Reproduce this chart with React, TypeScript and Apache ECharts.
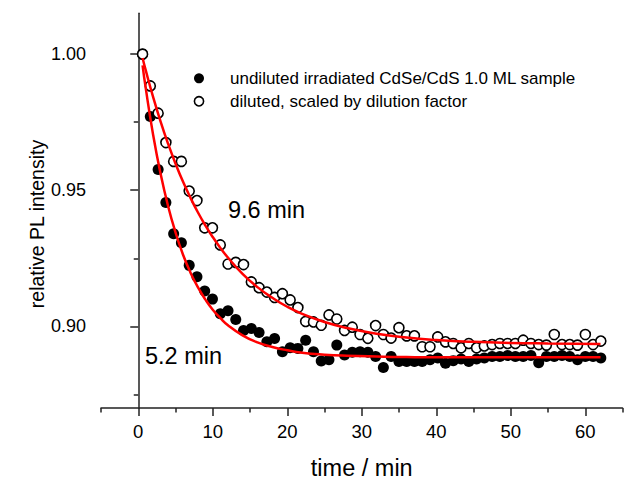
import React, { useEffect, useRef } from "react";
import * as echarts from "echarts";

const times = [
  0.58, 1.62, 2.67, 3.71, 4.75, 5.79, 6.84, 7.88, 8.92, 9.96,
  11.01, 12.05, 13.09, 14.13, 15.18, 16.22, 17.26, 18.3, 19.35, 20.39,
  21.43, 22.47, 23.52, 24.56, 25.6, 26.65, 27.69, 28.73, 29.77, 30.82,
  31.86, 32.9, 33.94, 34.99, 36.03, 37.07, 38.11, 39.16, 40.2, 41.24,
  42.28, 43.33, 44.37, 45.41, 46.45, 47.5, 48.54, 49.58, 50.62, 51.67,
  52.71, 53.75, 54.79, 55.84, 56.88, 57.92, 58.96, 60.01, 61.05, 62.09,
];

const undilutedPL = [
  1.0, 0.9771, 0.9576, 0.9455, 0.934, 0.9307, 0.9224, 0.9182, 0.913, 0.91,
  0.9046, 0.9057, 0.9025, 0.8985, 0.8992, 0.8977, 0.8943, 0.8955, 0.8907, 0.8921,
  0.8919, 0.8949, 0.8907, 0.8873, 0.8877, 0.8931, 0.8895, 0.8905, 0.8907, 0.8905,
  0.8889, 0.8849, 0.8889, 0.8871, 0.8871, 0.8871, 0.8871, 0.8877, 0.8884, 0.8864,
  0.8874, 0.888, 0.8871, 0.888, 0.8884, 0.8889, 0.8889, 0.8893, 0.8889, 0.8889,
  0.8893, 0.8866, 0.8889, 0.8889, 0.8893, 0.8889, 0.8877, 0.8889, 0.8889, 0.8884,
];

const dilutedPL = [
  1.0, 0.9883, 0.9783, 0.9675, 0.9606, 0.9606, 0.9497, 0.9462, 0.9362, 0.9362,
  0.9299, 0.9229, 0.9235, 0.9227, 0.9163, 0.9142, 0.9126, 0.9106, 0.912, 0.9097,
  0.9069, 0.9018, 0.9016, 0.9004, 0.9042, 0.9027, 0.8985, 0.8997, 0.897, 0.8956,
  0.9003, 0.897, 0.8957, 0.8995, 0.8965, 0.8965, 0.8925, 0.8925, 0.8961, 0.8943,
  0.8937, 0.8921, 0.8937, 0.8921, 0.8928, 0.8933, 0.8937, 0.8937, 0.8937, 0.8949,
  0.8937, 0.8933, 0.8931, 0.897, 0.8933, 0.8933, 0.8931, 0.897, 0.8933, 0.8946,
];

const fitTimes = [
  0.58, 1, 2, 3, 4, 5, 6, 7, 8, 9, 10, 11, 12, 14, 16, 18, 20, 22, 25, 28,
  32, 36, 40, 45, 50, 55, 62.05,
];
const undilutedFit = [
  0.9959, 0.9876, 0.9703, 0.956, 0.9442, 0.9345, 0.9264, 0.9198, 0.9144, 0.9099,
  0.9061, 0.9031, 0.9005, 0.8967, 0.8941, 0.8924, 0.8912, 0.8903, 0.8896, 0.8892,
  0.8889, 0.8887, 0.8886, 0.8886, 0.8886, 0.8886, 0.8886,
];
const dilutedFit = [
  0.9986, 0.9941, 0.9842, 0.9752, 0.9671, 0.9598, 0.9532, 0.9473, 0.9419, 0.9371,
  0.9328, 0.9289, 0.9254, 0.9193, 0.9144, 0.9105, 0.9072, 0.9046, 0.9016, 0.8994,
  0.8973, 0.8959, 0.895, 0.8943, 0.8939, 0.8937, 0.8935,
];

const xMajor = [0, 10, 20, 30, 40, 50, 60];
const xMinor = [-5, 5, 15, 25, 35, 45, 55, 65];
const yMajor = [0.9, 0.95, 1.0];
const yMinor = [0.875, 0.925, 0.975];

const legendLabels = [
  "undiluted irradiated CdSe/CdS 1.0 ML sample",
  "diluted, scaled by dilution factor",
];
const annotations = ["9.6 min", "5.2 min"];
const yTitle = "relative PL intensity";
const xTitle = "time / min";

const FONT = "'Liberation Sans', Arial, sans-serif";

export default function App() {
  const ref = useRef<HTMLDivElement>(null);

  useEffect(() => {
    if (!ref.current) return;
    const chart = echarts.init(ref.current, null, { renderer: "svg" });

    const gridLeft = 101;
    const gridTop = 13.3;
    const gridWidth = 521.5;
    const gridHeight = 400.4;

    const axisLineStyle = { color: "#222", width: 1.5 };

    const option = {
      animation: false,
      backgroundColor: "#fff",
      textStyle: { fontFamily: FONT },
      grid: { left: gridLeft, top: gridTop, width: gridWidth, height: gridHeight, containLabel: false },
      xAxis: [
        {
          type: "value",
          min: -5,
          max: 65,
          position: "bottom",
          name: xTitle,
          nameLocation: "middle",
          nameGap: 48,
          nameTextStyle: { fontSize: 23.5, color: "#000", fontFamily: FONT },
          axisLine: { show: true, lineStyle: axisLineStyle },
          axisTick: { show: true, length: 8, inside: false, customValues: xMajor, lineStyle: axisLineStyle },
          axisLabel: {
            show: true,
            customValues: xMajor,
            fontSize: 18.5,
            color: "#000",
            margin: 14,
            fontFamily: FONT,
          },
          splitLine: { show: false },
        },
        {
          type: "value",
          min: -5,
          max: 65,
          position: "bottom",
          axisLine: { show: false },
          axisTick: { show: true, length: 4.5, inside: false, customValues: xMinor, lineStyle: axisLineStyle },
          axisLabel: { show: false },
          splitLine: { show: false },
        },
      ],
      yAxis: [
        {
          type: "value",
          min: 0.87,
          max: 1.015,
          position: "left",
          axisLine: { show: true, lineStyle: axisLineStyle },
          axisTick: { show: true, length: 8, inside: false, customValues: yMajor, lineStyle: axisLineStyle },
          axisLabel: {
            show: true,
            customValues: yMajor,
            formatter: (v: number) => v.toFixed(2),
            fontSize: 18,
            color: "#000",
            margin: 15,
            fontFamily: FONT,
          },
          splitLine: { show: false },
        },
        {
          type: "value",
          min: 0.87,
          max: 1.015,
          position: "left",
          axisLine: { show: false },
          axisTick: { show: true, length: 4.5, inside: false, customValues: yMinor, lineStyle: axisLineStyle },
          axisLabel: { show: false },
          splitLine: { show: false },
        },
      ],
      series: [
        {
          type: "scatter",
          name: legendLabels[0],
          xAxisIndex: 0,
          yAxisIndex: 0,
          symbol: "circle",
          symbolSize: 11,
          itemStyle: { color: "#000", opacity: 1 },
          data: times.map((t, i) => [t, undilutedPL[i]]),
          z: 2,
        },
        {
          type: "scatter",
          name: legendLabels[1],
          xAxisIndex: 0,
          yAxisIndex: 0,
          symbol: "circle",
          symbolSize: 10,
          itemStyle: { color: "#fff", borderColor: "#000", borderWidth: 1.6, opacity: 1 },
          data: times.map((t, i) => [t, dilutedPL[i]]),
          z: 3,
        },
        {
          type: "line",
          xAxisIndex: 0,
          yAxisIndex: 0,
          smooth: true,
          showSymbol: false,
          symbol: "none",
          lineStyle: { color: "#ff0000", width: 2.5 },
          data: fitTimes.map((t, i) => [t, undilutedFit[i]]),
          z: 4,
        },
        {
          type: "line",
          xAxisIndex: 0,
          yAxisIndex: 0,
          smooth: true,
          showSymbol: false,
          symbol: "none",
          lineStyle: { color: "#ff0000", width: 2.5 },
          data: fitTimes.map((t, i) => [t, dilutedFit[i]]),
          z: 4,
        },
      ],
      graphic: [
        { type: "circle", shape: { cx: 199, cy: 78.3, r: 5 }, style: { fill: "#000" }, z: 10 },
        { type: "circle", shape: { cx: 199, cy: 101.3, r: 4.6 }, style: { fill: "#fff", stroke: "#000", lineWidth: 1.6 }, z: 10 },
        {
          type: "text",
          x: 230,
          y: 78.3,
          style: { text: legendLabels[0], fontSize: 17, fill: "#000", fontFamily: FONT, verticalAlign: "middle", align: "left" },
          z: 10,
        },
        {
          type: "text",
          x: 230,
          y: 101.3,
          style: { text: legendLabels[1], fontSize: 17, fill: "#000", fontFamily: FONT, verticalAlign: "middle", align: "left" },
          z: 10,
        },
        {
          type: "text",
          x: 228,
          y: 210,
          style: { text: annotations[0], fontSize: 23.5, fill: "#000", fontFamily: FONT, verticalAlign: "middle", align: "left" },
          z: 10,
        },
        {
          type: "text",
          x: 145,
          y: 356,
          style: { text: annotations[1], fontSize: 23.5, fill: "#000", fontFamily: FONT, verticalAlign: "middle", align: "left" },
          z: 10,
        },
        {
          type: "text",
          x: 37,
          y: 224,
          rotation: Math.PI / 2,
          style: { text: yTitle, fontSize: 19.5, fill: "#000", fontFamily: FONT, verticalAlign: "middle", align: "center" },
          z: 10,
        },
      ],
    };

    chart.setOption(option as any);
    return () => chart.dispose();
  }, []);

  return (
    <div
      ref={ref}
      style={{ position: "absolute", left: 0, top: 0, width: 634, height: 485, background: "#fff" }}
    />
  );
}
